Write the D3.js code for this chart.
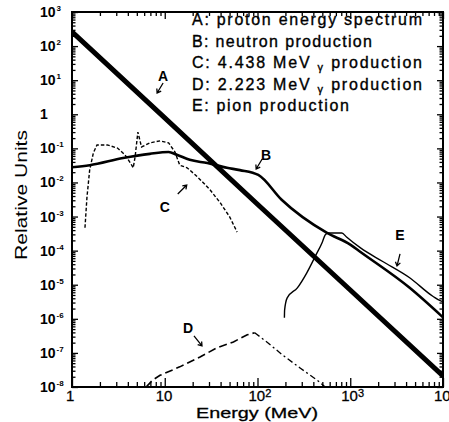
<!DOCTYPE html>
<html>
<head>
<meta charset="utf-8">
<script src="https://cdn.jsdelivr.net/npm/d3@7"></script>
<style>
  html, body { margin: 0; padding: 0; background: #fff; }
  svg { display: block; }
  text { font-family: "Liberation Sans", Arial, Helvetica, sans-serif; fill: #000; }
</style>
</head>
<body>
<svg id="chart" width="449" height="422"></svg>
<script>
// ---------------- DATA ----------------
const xDecades = [1, 10, 100, 1000, 10000];
const xTickLabels = [["1", ""], ["10", ""], ["10", "2"], ["10", "3"], ["10", "4"]];
const yDecades = [1e3, 1e2, 1e1, 1, 1e-1, 1e-2, 1e-3, 1e-4, 1e-5, 1e-6, 1e-7, 1e-8];
const yTickLabels = [["10", "3"], ["10", "2"], ["10", "1"], ["1", ""], ["10", "-1"], ["10", "-2"],
  ["10", "-3"], ["10", "-4"], ["10", "-5"], ["10", "-6"], ["10", "-7"], ["10", "-8"]];

// A: proton energy spectrum
const aEnergy = [1, 10, 100, 1000, 10000];
const aValue  = [260, 0.78, 2.3e-3, 7e-6, 2.1e-8];

// B: neutron production
const bEnergy = [1, 1.55, 3.55, 6.9, 11, 13.5, 18.6, 28.8, 46.8, 64.6, 102, 182, 562, 1000, 1290, 4370, 10000];
const bValue  = [0.028, 0.032, 0.052, 0.069, 0.078, 0.065, 0.046, 0.037, 0.027, 0.023, 0.0166, 0.0031,
  3.3e-4, 1.5e-4, 9.1e-5, 8.1e-6, 1.1e-6];

// C: 4.438 MeV gamma production
const cEnergy = [1.38, 1.45, 1.55, 1.70, 1.86, 2.40, 3.09, 3.72, 4.27, 4.57, 4.79, 5.13, 5.62, 6.92,
  8.91, 11.0, 12.9, 14.5, 17.4, 21.4, 25.7, 30.9, 39.8, 50.1, 60.3];
const cValue  = [4.7e-4, 3.7e-3, 0.023, 0.074, 0.126, 0.126, 0.102, 0.065, 0.037, 0.027, 0.056, 0.30,
  0.11, 0.145, 0.166, 0.145, 0.078, 0.032, 0.027, 0.0166, 0.0102, 0.006, 0.0025, 9.8e-4, 3.5e-4];

// D: 2.223 MeV gamma production (rising part dashed, falling part dash-dot)
const dEnergy = [6.3, 6.9, 7.4, 8.9, 14.5, 24, 36.3, 55, 77.6, 93.3, 126, 186, 288, 437, 537];
const dValue  = [1e-8, 1.3e-8, 1.6e-8, 2.2e-8, 3.9e-8, 7.6e-8, 1.4e-7, 2.1e-7, 3.4e-7, 3.9e-7,
  2.1e-7, 8.7e-8, 3.6e-8, 1.6e-8, 1e-8];

// E: pion production
const eEnergy = [195, 196, 209, 269, 339, 417, 501, 537, 575, 813, 912, 1290, 2240, 4370, 7760, 9330, 10000];
const eValue  = [1.07e-6, 1.8e-6, 4.1e-6, 8.1e-6, 2.2e-5, 6.6e-5, 1.8e-4, 2.9e-4, 3.3e-4, 3.3e-4,
  2.5e-4, 1.2e-4, 4.8e-5, 1.6e-5, 4.6e-6, 3.4e-6, 3.2e-6];

const legendLines = [
  ["A: proton energy spectrum"],
  ["B: neutron production"],
  ["C: 4.438 MeV ", "γ", " production"],
  ["D: 2.223 MeV ", "γ", " production"],
  ["E: pion production"]
];

// curve annotation labels (energy, value)
const annoLabels = ["A", "B", "C", "D", "E"];
const annoEnergy = [9.6, 124, 10, 17.8, 3440];
const annoValue  = [13.3, 0.064, 1.9e-3, 5.4e-7, 2.9e-4];

// ---------------- LAYOUT ----------------
const svg = d3.select("#chart");
const L = 72, R = 443, T = 12, B = 387;
const x = d3.scaleLog().domain([1, 1e4]).range([L, R]);
const y = d3.scaleLog().domain([1e-8, 1e3]).range([B, T]);

function minorTicks(lo, hi) {
  const out = [];
  for (let d = lo; d < hi; d *= 10) for (let k = 2; k <= 9; k++) out.push(d * k);
  return out;
}
const xMinor = minorTicks(1, 1e4);
const yMinor = minorTicks(1e-8, 1e3);

const axisG = svg.append("g").attr("class", "axes");
function addAxis(gen, transform, vals, size) {
  const g = axisG.append("g").attr("transform", transform)
    .call(gen.tickValues(vals).tickFormat("").tickSizeInner(size).tickSizeOuter(0));
  g.select(".domain").remove();
  g.selectAll(".tick line").attr("stroke", "#000").attr("stroke-width", 1.3);
  return g;
}
addAxis(d3.axisBottom(x), `translate(0,${B})`, xDecades, -9);
addAxis(d3.axisBottom(x), `translate(0,${B})`, xMinor, -5);
addAxis(d3.axisTop(x), `translate(0,${T})`, xDecades, -7);
addAxis(d3.axisTop(x), `translate(0,${T})`, xMinor, -4);
addAxis(d3.axisLeft(y), `translate(${L},0)`, yDecades, -6);
addAxis(d3.axisLeft(y), `translate(${L},0)`, yMinor, -3.5);
addAxis(d3.axisRight(y), `translate(${R},0)`, yDecades, -6);
addAxis(d3.axisRight(y), `translate(${R},0)`, yMinor, -3.5);

svg.append("rect").attr("x", L).attr("y", T).attr("width", R - L).attr("height", B - T)
  .attr("fill", "none").attr("stroke", "#000").attr("stroke-width", 2);

// y tick labels
const yl = svg.append("g").attr("class", "ylabels");
yDecades.forEach((v, i) => {
  const t = yl.append("text").attr("x", 40).attr("y", y(v) + 5)
    .attr("font-size", 14).attr("font-weight", "bold");
  t.append("tspan").text(yTickLabels[i][0]);
  if (yTickLabels[i][1]) t.append("tspan").attr("dy", -6).attr("dx", 1).attr("font-size", 8).text(yTickLabels[i][1]);
});
// x tick labels
const xl = svg.append("g").attr("class", "xlabels");
xDecades.forEach((v, i) => {
  const lab = xTickLabels[i];
  const t = xl.append("text").attr("x", x(v) - (lab[0] === "1" ? 6 : 9)).attr("y", 401)
    .attr("font-size", 15).attr("stroke", "#000").attr("stroke-width", 0.3);
  t.append("tspan").text(lab[0]);
  if (lab[1]) t.append("tspan").attr("dy", -4).attr("font-size", 11).text(lab[1]);
});

// axis titles
svg.append("text").attr("x", 257).attr("y", 418).attr("text-anchor", "middle")
  .attr("font-size", 15.5).attr("textLength", 122).attr("lengthAdjust", "spacingAndGlyphs")
  .attr("stroke", "#000").attr("stroke-width", 0.3)
  .text("Energy (MeV)");
svg.append("text").attr("transform", "translate(27,195) rotate(-90)").attr("text-anchor", "middle")
  .attr("font-size", 17).attr("textLength", 130).attr("lengthAdjust", "spacingAndGlyphs")
  .text("Relative Units");

// ---------------- CURVES ----------------
svg.append("clipPath").attr("id", "plotclip").append("rect")
  .attr("x", L).attr("y", T).attr("width", R - L).attr("height", B - T);
const plot = svg.append("g").attr("clip-path", "url(#plotclip)");
const zip = (a, b) => a.map((v, i) => [v, b[i]]);
const lin = d3.line().x(d => x(d[0])).y(d => y(d[1]));
const smooth = d3.line().x(d => x(d[0])).y(d => y(d[1])).curve(d3.curveMonotoneX);

const dPts = zip(dEnergy, dValue);
const peak = d3.maxIndex(dValue);
plot.append("path").attr("d", lin(dPts.slice(0, peak + 1)))
  .attr("fill", "none").attr("stroke", "#000").attr("stroke-width", 1.6).attr("stroke-dasharray", "8,4");
plot.append("path").attr("d", lin(dPts.slice(peak)))
  .attr("fill", "none").attr("stroke", "#000").attr("stroke-width", 1.3).attr("stroke-dasharray", "6,3,2,3");
plot.append("path").attr("d", lin(zip(cEnergy, cValue)))
  .attr("fill", "none").attr("stroke", "#000").attr("stroke-width", 1.4).attr("stroke-dasharray", "3.5,2");
plot.append("path").attr("d", smooth(zip(eEnergy, eValue)))
  .attr("fill", "none").attr("stroke", "#000").attr("stroke-width", 1.4);
plot.append("path").attr("d", smooth(zip(bEnergy, bValue)))
  .attr("fill", "none").attr("stroke", "#000").attr("stroke-width", 2.6);
plot.append("path").attr("d", lin(zip(aEnergy, aValue)))
  .attr("fill", "none").attr("stroke", "#000").attr("stroke-width", 5);

// ---------------- LEGEND ----------------
const leg = svg.append("g").attr("class", "legend");
const legWidths = [230, 180, 230, 230, 157];
legendLines.forEach((parts, i) => {
  const t = leg.append("text").attr("x", 192).attr("y", 25 + i * 21.5).attr("font-size", 16)
    .attr("stroke", "#000").attr("stroke-width", 0.35)
    .attr("textLength", legWidths[i]).attr("lengthAdjust", "spacing");
  parts.forEach((p, j) => {
    const ts = t.append("tspan").text(p);
    if (p === "γ") { ts.attr("font-size", 11).attr("dy", 3); }
    else if (j > 0 && parts[j - 1] === "γ") { ts.attr("dy", -3); }
  });
});

// ---------------- ANNOTATIONS ----------------
const arrows = [
  [[0, 7], [-6, 17]],
  [[-4, 4], [-10, 14]],
  [[13, -13], [22, -22]],
  [[6, 8], [14, 18]],
  [[0, 19], [-3, 31]]
];
const ann = svg.append("g").attr("class", "annotations");
annoLabels.forEach((lab, i) => {
  const cx = x(annoEnergy[i]), cy = y(annoValue[i]);
  ann.append("text").attr("x", cx).attr("y", cy + 5).attr("text-anchor", "middle")
    .attr("font-size", 14).attr("font-weight", "bold").text(lab);
  const [p0, p1] = arrows[i];
  const x0 = cx + p0[0], y0 = cy + p0[1], x1 = cx + p1[0], y1 = cy + p1[1];
  const ang = Math.atan2(y1 - y0, x1 - x0), h = 4.5;
  const hx1 = x1 - h * Math.cos(ang - 0.6), hy1 = y1 - h * Math.sin(ang - 0.6);
  const hx2 = x1 - h * Math.cos(ang + 0.6), hy2 = y1 - h * Math.sin(ang + 0.6);
  ann.append("path").attr("d", `M${x0},${y0}L${x1},${y1}M${hx1},${hy1}L${x1},${y1}L${hx2},${hy2}`)
    .attr("fill", "none").attr("stroke", "#000").attr("stroke-width", 1.3);
});
</script>
</body>
</html>
